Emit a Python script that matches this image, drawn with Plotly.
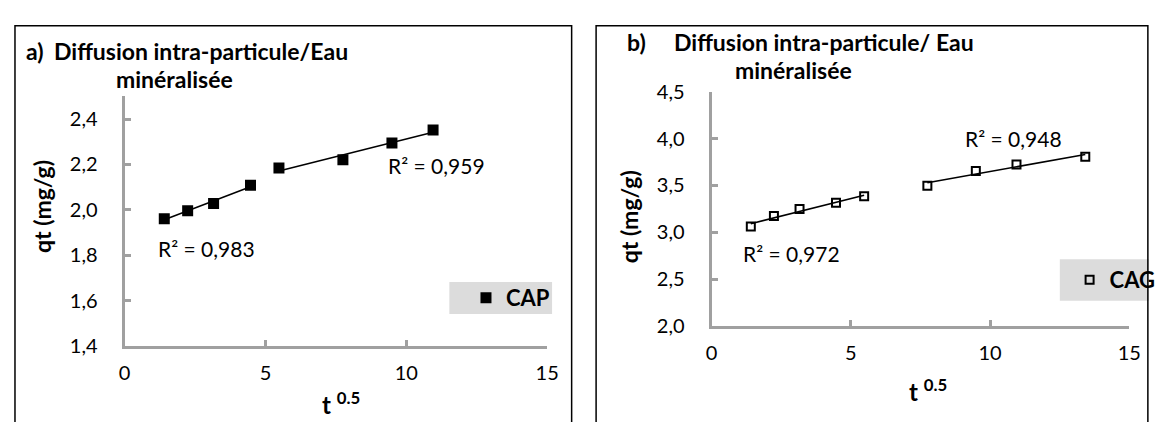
import numpy as np
import plotly.graph_objects as go

# Données : t^0.5 et qt (mg/g)
x_cap = [1.41, 2.24, 3.16, 4.47, 5.48, 7.75, 9.49, 10.95]
q_cap = [1.961, 1.996, 2.028, 2.108, 2.184, 2.221, 2.294, 2.352]
seg_cap = [4, 4]  # nb de points par segment linéaire

x_cag = [1.41, 2.24, 3.16, 4.47, 5.48, 7.75, 9.49, 10.95, 13.42]
q_cag = [3.064, 3.175, 3.248, 3.315, 3.386, 3.496, 3.653, 3.724, 3.807]
seg_cag = [5, 4]

r2_cap = ["R² = 0,983", "R² = 0,959"]
r2_cag = ["R² = 0,972", "R² = 0,948"]

OFF = 8  # marge par défaut du <body> de la page
W, H = 1169 - 2 * OFF, 430 - 2 * OFF
FONT = "Lato"
AXIS_GRAY = "#a0a0a0"


def px(x):
    return (x - OFF) / W


def py(y):
    return 1 - (y - OFF) / H


fig = go.Figure()


def add_panel(xs, qs, segs, symbol, size, name, xa, ya, legend):
    fig.add_trace(go.Scatter(
        x=xs, y=qs, mode="markers", name=name, xaxis=xa, yaxis=ya,
        legend=legend,
        marker=dict(symbol=symbol, size=size, color="black",
                    line=dict(color="black", width=2)),
    ))
    # droites de tendance par segment
    start = 0
    for n in segs:
        sx = np.array(xs[start:start + n])
        sy = np.array(qs[start:start + n])
        a, b = np.polyfit(sx, sy, 1)
        lx = [sx[0], sx[-1]]
        fig.add_trace(go.Scatter(
            x=lx, y=[a * v + b for v in lx], mode="lines", showlegend=False,
            xaxis=xa, yaxis=ya, line=dict(color="black", width=1.5),
            hoverinfo="skip",
        ))
        start += n


add_panel(x_cap, q_cap, seg_cap, "square", 9, "CAP", "x", "y", "legend")
add_panel(x_cag, q_cag, seg_cag, "square-open", 8, "CAG", "x2", "y2", "legend2")

axis_common = dict(
    showline=True, linecolor=AXIS_GRAY, linewidth=3, showgrid=False,
    zeroline=False, ticks="inside", ticklen=6, tickwidth=3,
    tickcolor=AXIS_GRAY, tickfont=dict(family=FONT, size=20, color="black"),
)

legend_font = dict(family=FONT, size=22, color="black", weight="bold")

fig.update_layout(
    width=W, height=H,
    margin=dict(l=0, r=0, t=0, b=0),
    paper_bgcolor="white", plot_bgcolor="white",
    separators=", ",
    font=dict(family=FONT, color="black"),
    xaxis=dict(domain=[px(121), px(553)], range=[0, 15], dtick=5,
               anchor="y", ticklabelstandoff=7, **axis_common),
    yaxis=dict(domain=[py(353), py(88)], range=[1.4, 2.5],
               tick0=1.4, dtick=0.2, tickformat=".1f", anchor="x",
               ticklabelstandoff=20, **axis_common),
    xaxis2=dict(domain=[px(721), px(1148)], range=[0, 15], dtick=5,
                anchor="y2", ticklabelstandoff=7, **axis_common),
    yaxis2=dict(domain=[py(332), py(83)], range=[2, 4.5], dtick=0.5,
                tickformat=".1f", anchor="x2", ticklabelstandoff=20,
                **axis_common),
    legend=dict(x=px(470), y=py(302), xanchor="left", yanchor="middle",
                bgcolor="rgba(0,0,0,0)", itemwidth=30, font=legend_font),
    legend2=dict(x=px(1087), y=py(283), xanchor="left", yanchor="middle",
                 bgcolor="rgba(0,0,0,0)", itemwidth=30, font=legend_font),
    showlegend=True,
)

# cadres des deux panneaux et fonds gris des légendes
fig.add_shape(type="rect", xref="paper", yref="paper",
              x0=px(9), x1=px(578), y0=-0.1, y1=py(13),
              line=dict(color="black", width=1.5))
fig.add_shape(type="rect", xref="paper", yref="paper",
              x0=px(603), x1=px(1167), y0=-0.1, y1=py(13),
              line=dict(color="black", width=1.5))
fig.add_shape(type="rect", xref="paper", yref="paper", layer="below",
              x0=px(453), x1=px(558), y0=py(319), y1=py(285),
              fillcolor="#dcdcdc", line=dict(width=0))
fig.add_shape(type="rect", xref="paper", yref="paper", layer="below",
              x0=px(1077), x1=px(1168), y0=py(305), y1=py(261),
              fillcolor="#dcdcdc", line=dict(width=0))


def note(x, y, text, size=17, bold=False, angle=0, anchor="left"):
    if bold:
        text = "<b>" + text + "</b>"
    fig.add_annotation(xref="paper", yref="paper", x=px(x), y=py(y),
                       text=text, showarrow=False, xanchor=anchor,
                       yanchor="middle", textangle=angle,
                       font=dict(family=FONT, size=size, color="black"))


# titres
note(18, 40, "a)", size=23, bold=True)
note(47, 40, "Diffusion intra-particule/Eau", size=23, bold=True)
note(110, 70, "minéralisée", size=23, bold=True)
note(633, 30, "b)", size=23, bold=True)
note(681, 30, "Diffusion intra-particule/ Eau", size=23, bold=True)
note(743, 60, "minéralisée", size=23, bold=True)

# titres des axes
note(36, 205, "qt (mg/g)", size=23, bold=True, angle=-90, anchor="center")
note(637, 216, "qt (mg/g)", size=23, bold=True, angle=-90, anchor="center")
note(342, 413, "t <sup>0.5</sup>", size=24, bold=True, anchor="center")
note(942, 400, "t <sup>0.5</sup>", size=24, bold=True, anchor="center")

# coefficients de détermination
note(153, 250, r2_cap[0], size=21)
note(388, 161, r2_cap[1], size=21)
note(751, 255, r2_cag[0], size=21)
note(978, 133, r2_cag[1], size=21)

fig.write_html("out.html")
